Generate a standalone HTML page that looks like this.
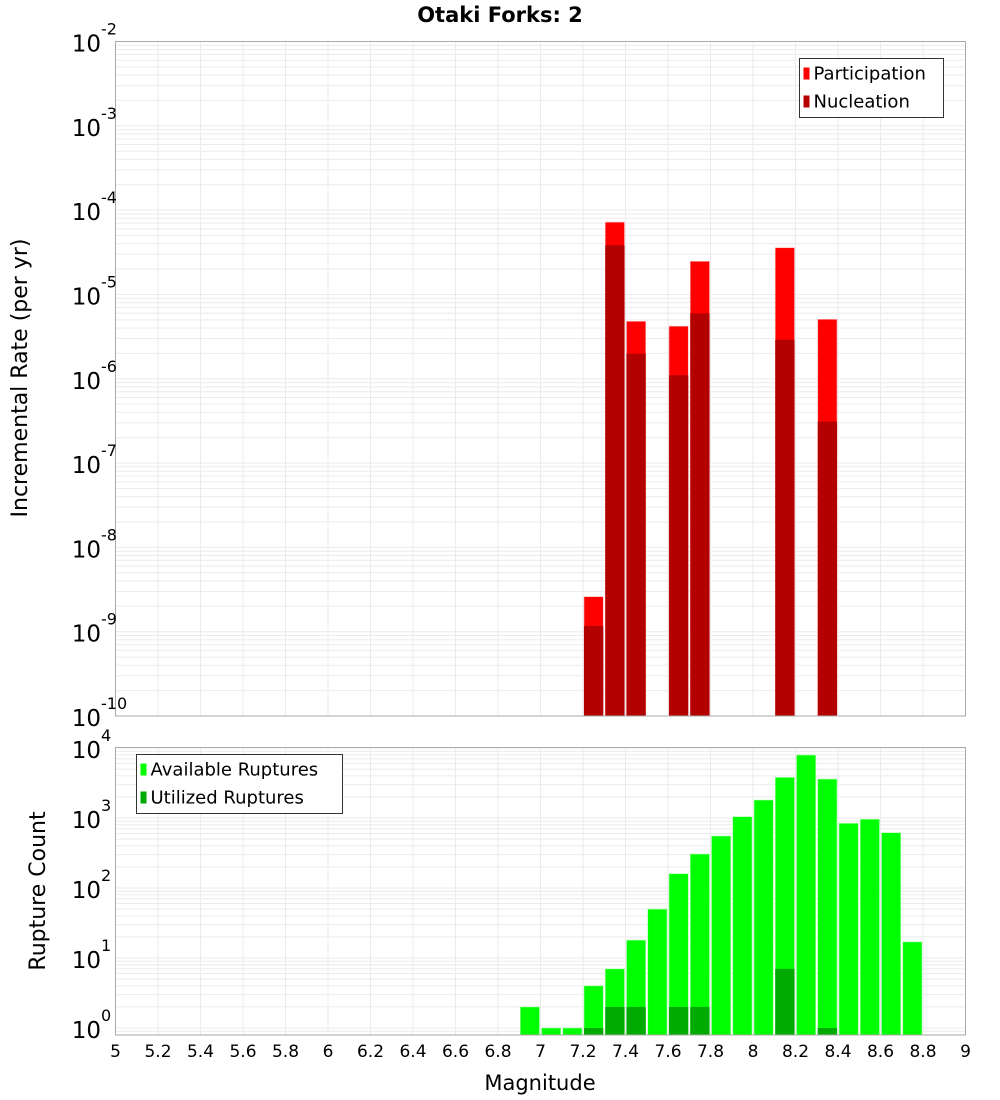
<!DOCTYPE html>
<html><head><meta charset="utf-8"><style>
body{margin:0;background:#fff;}
svg{display:block;font-family:"DejaVu Sans","Liberation Sans",sans-serif;}
</style></head><body>
<svg id="c" width="1000" height="1100" xmlns="http://www.w3.org/2000/svg"></svg>
<script>
const magBins=[7.25,7.35,7.45,7.65,7.75,8.15,8.35];
const participation=[2.6e-9,7.2e-5,4.8e-6,4.2e-6,2.47e-5,3.58e-5,5.07e-6];
const nucleation=[1.17e-9,3.85e-5,1.98e-6,1.1e-6,5.97e-6,2.9e-6,3.1e-7];
const countBins=[6.95,7.05,7.15,7.25,7.35,7.45,7.55,7.65,7.75,7.85,7.95,8.05,8.15,8.25,8.35,8.45,8.55,8.65,8.75];
const available=[2,1,1,4,7,18,50,160,306,553,1044,1807,3800,7940,3600,840,960,617,17];
const utilized=[0,0,0,1,2,2,0,2,2,0,0,0,7,0,1,0,0,0,0];
const xTicks=[5,5.2,5.4,5.6,5.8,6,6.2,6.4,6.6,6.8,7,7.2,7.4,7.6,7.8,8,8.2,8.4,8.6,8.8,9];
const topExps=[-2,-3,-4,-5,-6,-7,-8,-9,-10];
const botExps=[0,1,2,3,4];

const NS="http://www.w3.org/2000/svg";
const svg=document.getElementById('c');
function el(t,a,p){const e=document.createElementNS(NS,t);for(const k in a)e.setAttribute(k,a[k]);(p||svg).appendChild(e);return e;}
const L=115.5,R=965.5;
const X=m=>L+(m-5)*(R-L)/4;
const T0=41.5,T1=716;
const yTop=v=>T0+(-2-Math.log10(v))*(T1-T0)/8;
const B0=747.5,B1=1035;
const yBot=v=>1028-Math.log10(v)*70;

// grids
function grid(y0,y1,ylog,emin,emax){
  const g=el('g',{});
  
  
  for(let e=emin;e<=emax;e++)for(let k=1;k<10;k++){
    const y=ylog(k*Math.pow(10,e));
    if(y<y0-0.1||y>y1+0.1)continue;
    el('line',{x1:L,x2:R,y1:y,y2:y,stroke:'#ebebeb','stroke-width':1},g);
  }
  xTicks.forEach(t=>{const x=X(t);el('line',{x1:x,x2:x,y1:y0,y2:y1,stroke:'#ebebeb','stroke-width':1},g);});
}
grid(T0,T1,yTop,-10,-2);
grid(B0,B1,yBot,-1,4);

// top bars
magBins.forEach((m,i)=>{
  const x=X(m-0.05)+1,w=X(m+0.05)-X(m-0.05)-2;
  let y=yTop(participation[i]);
  const r=el('rect',{x:x,y:y,width:w,height:T1-y,fill:'#ff0000',stroke:'#ffb0b0','stroke-width':0.6});
  
  
  y=yTop(nucleation[i]);
  const r2=el('rect',{x:x,y:y,width:w,height:T1-y,fill:'#b30000'});
  
  
});
// bottom bars
countBins.forEach((m,i)=>{
  const x=X(m-0.05)+1,w=X(m+0.05)-X(m-0.05)-2;
  let y=yBot(available[i]);
  const r=el('rect',{x:x,y:y,width:w,height:B1-y,fill:'#00ff00',stroke:'#b0ffb0','stroke-width':0.6});
  
  
  if(utilized[i]>0){
    y=yBot(utilized[i]);
    const r2=el('rect',{x:x,y:y,width:w,height:B1-y,fill:'#00aa00'});
    
    
  }
});

// frames
el('rect',{x:L,y:T0,width:R-L,height:T1-T0,fill:'none',stroke:'#aaa','stroke-width':1});
el('rect',{x:L,y:B0,width:R-L,height:B1-B0,fill:'none',stroke:'#aaa','stroke-width':1});

// y tick labels
function ylab(exp,y,name){
  const t=el('text',{x:101,y:y+10,'text-anchor':'end','font-size':23,fill:'#000'});
  t.textContent='10';
  
  
  const s=el('text',{x:101,y:y-7,'font-size':16,fill:'#000'});
  s.textContent=String(exp);
  
  
}
topExps.forEach(e=>ylab(e,yTop(Math.pow(10,e)),'y-tick-label'));
botExps.forEach(e=>ylab(e,yBot(Math.pow(10,e)),'count-tick-label'));

// x ticks
xTicks.forEach(t=>{
  const tx=el('text',{x:X(t),y:1057,'text-anchor':'middle','font-size':17,fill:'#000'});
  tx.textContent=String(t);
  
  
});

// titles
let t=el('text',{x:500,y:22,'text-anchor':'middle','font-size':21,'font-weight':'bold'});
t.textContent='Otaki Forks: 2';

t=el('text',{x:540,y:1090,'text-anchor':'middle','font-size':21});
t.textContent='Magnitude';

t=el('text',{x:0,y:0,'text-anchor':'middle','font-size':22,transform:'translate(27,378) rotate(-90)'});
t.textContent='Incremental Rate (per yr)';

t=el('text',{x:0,y:0,'text-anchor':'middle','font-size':22,transform:'translate(45,891) rotate(-90)'});
t.textContent='Rupture Count';


// legends
function legend(x,y,w,h,items,name){
  const g=el('g',{});
  
  
  el('rect',{x:x,y:y,width:w,height:h,fill:'#fff',stroke:'#333','stroke-width':1},g);
  items.forEach((it,i)=>{
    const cy=y+15+i*28;
    el('rect',{x:x+4,y:cy-6,width:6,height:12,fill:it[1]},g);
    const tt=el('text',{x:x+14,y:cy+6,'font-size':18},g);
    tt.textContent=it[0];
    
    
  });
}
legend(799.5,58.5,144,59,[['Participation','#ff0000'],['Nucleation','#b30000']],'rate-legend');
legend(136.5,754.5,206,59,[['Available Ruptures','#00ff00'],['Utilized Ruptures','#00aa00']],'count-legend');
</script>
</body></html>
